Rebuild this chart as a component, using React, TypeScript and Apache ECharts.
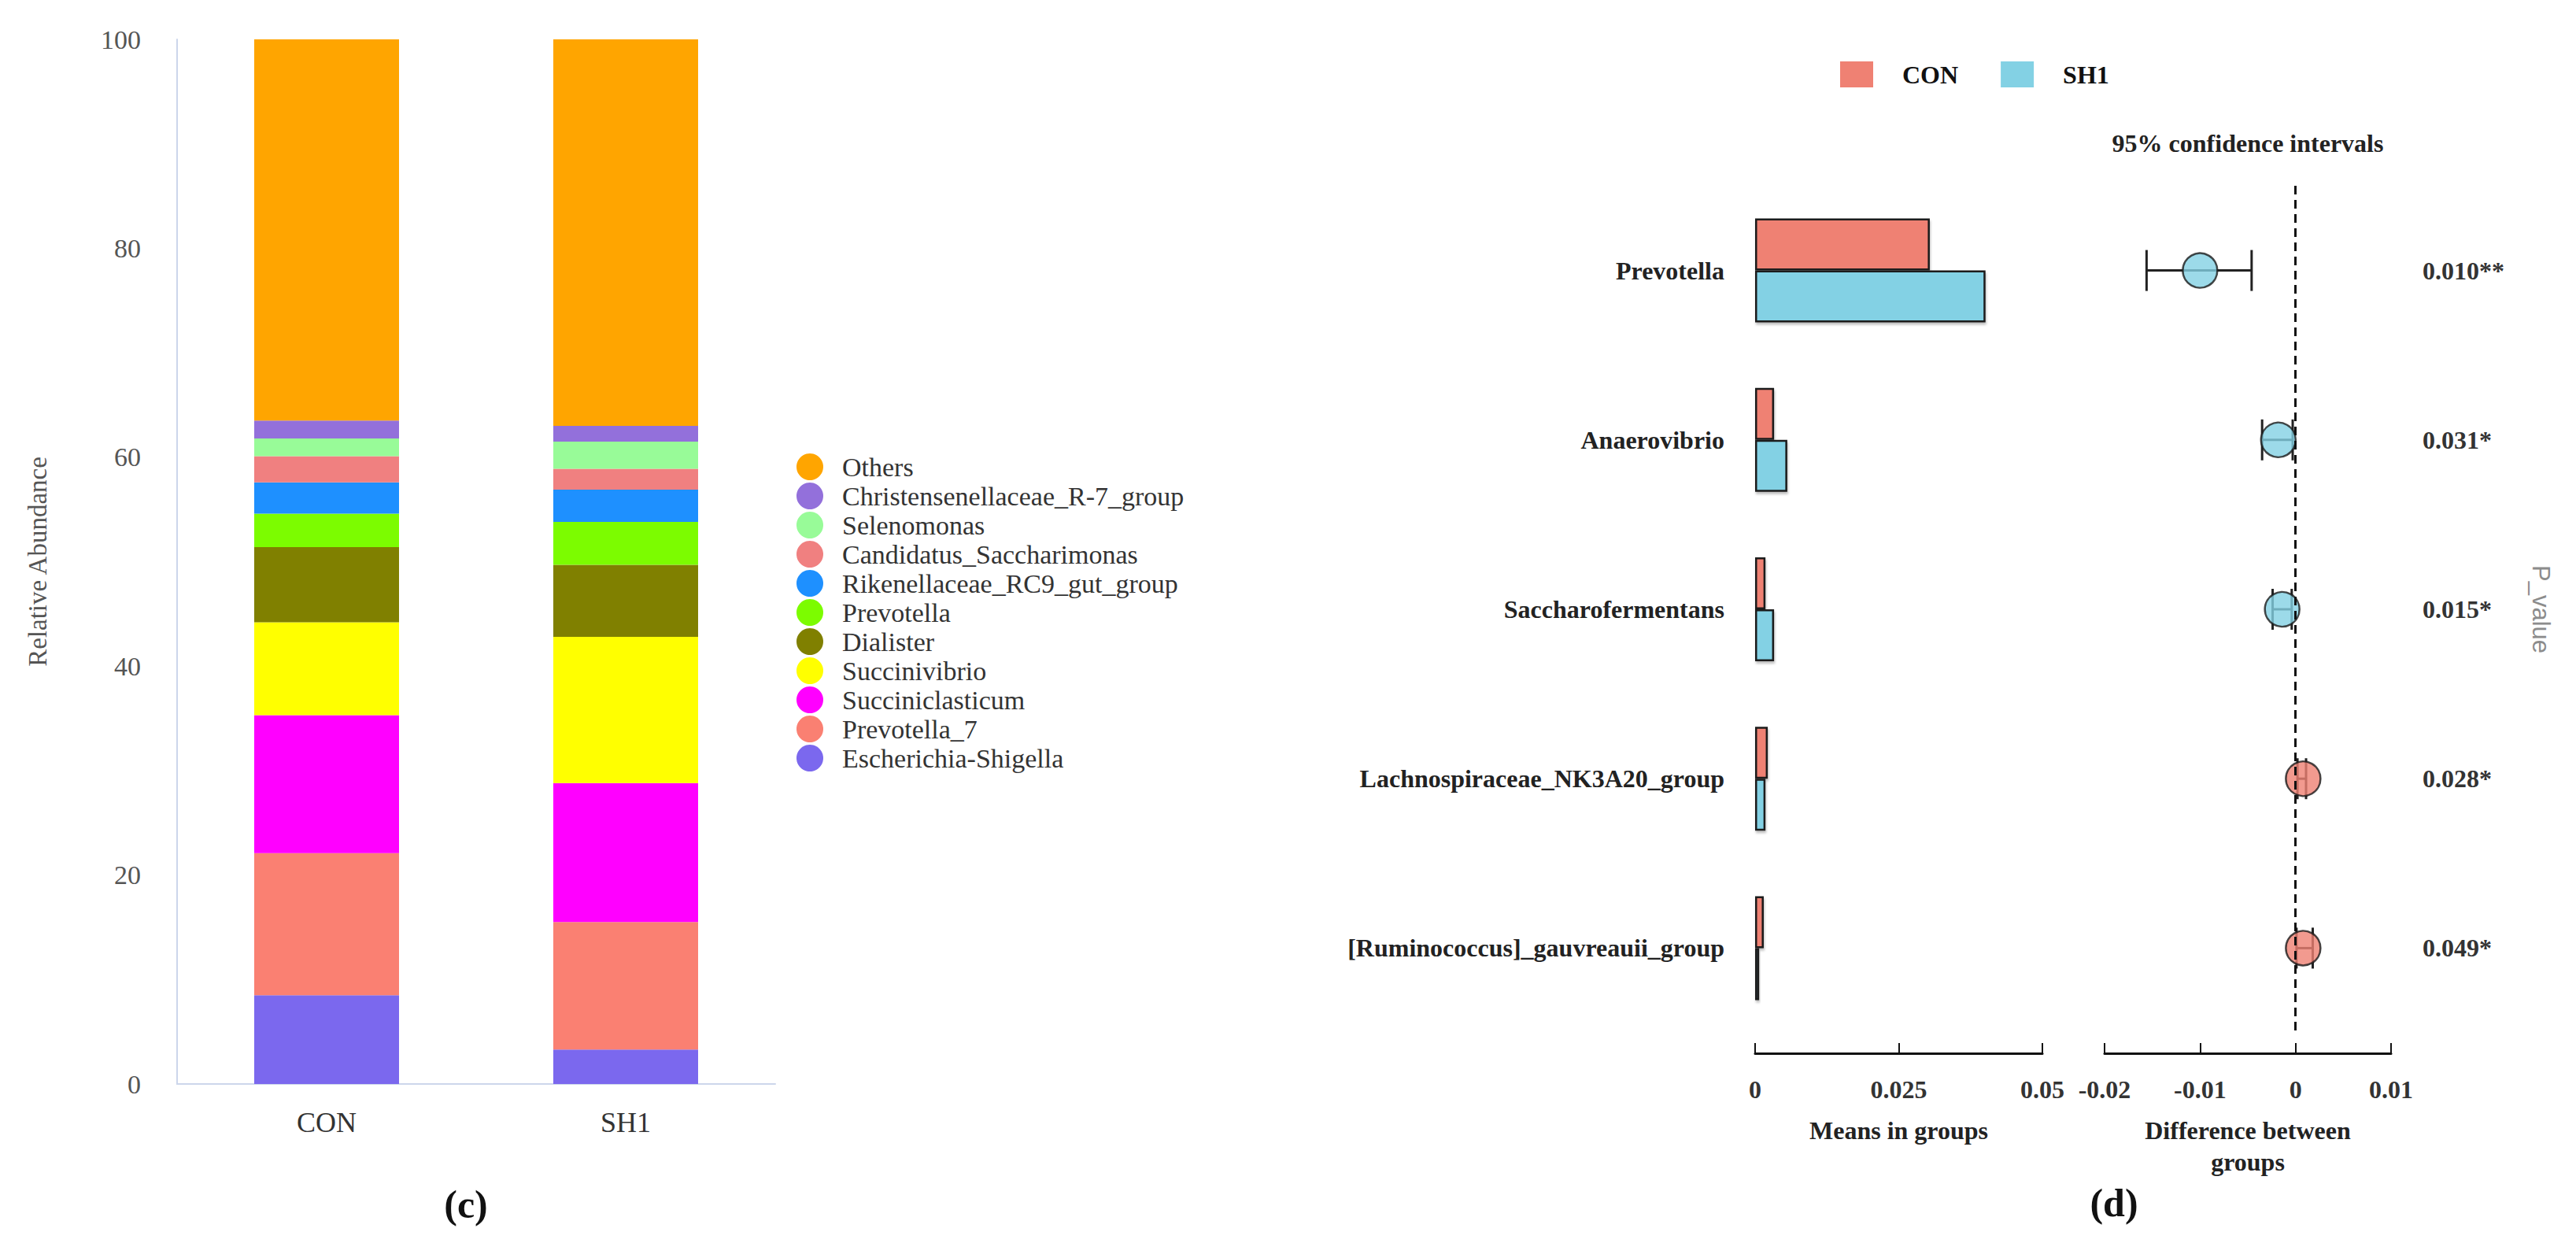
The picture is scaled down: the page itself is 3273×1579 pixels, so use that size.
import React, { useEffect, useRef } from 'react';
import * as echarts from 'echarts';

// ---------- Panel (c): relative abundance ----------
const groups = ['CON', 'SH1'];
const genera = [
  'Escherichia-Shigella',
  'Prevotella_7',
  'Succiniclasticum',
  'Succinivibrio',
  'Dialister',
  'Prevotella',
  'Rikenellaceae_RC9_gut_group',
  'Candidatus_Saccharimonas',
  'Selenomonas',
  'Christensenellaceae_R-7_group',
  'Others',
];
const conAbundance = [8.5, 13.6, 13.2, 8.9, 7.2, 3.2, 3.0, 2.5, 1.7, 1.7, 36.5];
const sh1Abundance = [3.3, 12.2, 13.3, 14.0, 6.9, 4.1, 3.1, 2.0, 2.6, 1.5, 37.0];
const abundanceMin = 0;
const abundanceMax = 100;
const abundanceStep = 20;

// ---------- Panel (d): extended error bar ----------
const taxa = [
  'Prevotella',
  'Anaerovibrio',
  'Saccharofermentans',
  'Lachnospiraceae_NK3A20_group',
  '[Ruminococcus]_gauvreauii_group',
];
const conMeans = [0.0304, 0.0033, 0.0018, 0.0022, 0.0015];
const sh1Means = [0.0401, 0.0056, 0.0033, 0.0018, 0.0007];
const diffEstimate = [-0.01, -0.0018, -0.0014, 0.0008, 0.0008];
const ciLower = [-0.0156, -0.0035, -0.0024, 0.0002, 0.0001];
const ciUpper = [-0.0046, -0.0003, -0.0004, 0.0011, 0.0018];
const pValues = ['0.010**', '0.031*', '0.015*', '0.028*', '0.049*'];
const meanMin = 0;
const meanMax = 0.05;
const meanStep = 0.025;
const diffMin = -0.02;
const diffMax = 0.01;
const diffStep = 0.01;

// styles (kept apart from data)
const generaColors = [
  '#7B68EE', '#FA8072', '#FF00FF', '#FFFF00', '#808000', '#7CFC00',
  '#1E90FF', '#F08080', '#98FB98', '#9370DB', '#FFA500',
];
const CON_COLOR = '#EF8173';
const SH1_COLOR = '#83D1E4';
const SERIF = '"Liberation Serif", "Times New Roman", serif';

const fmt = (v: number) => String(+Number(v).toFixed(4));

export default function App() {
  const ref = useRef<HTMLDivElement>(null);

  useEffect(() => {
    const chart = echarts.init(ref.current as HTMLDivElement, null, { renderer: 'svg' });

    const stackSeries = genera.map((g, i) => ({
      type: 'bar',
      name: g,
      stack: 'abundance',
      xAxisIndex: 0,
      yAxisIndex: 0,
      barWidth: 184,
      data: [conAbundance[i], sh1Abundance[i]],
      itemStyle: { color: generaColors[i] },
    }));

    const barShadow = {
      shadowColor: 'rgba(0,0,0,0.25)',
      shadowBlur: 3,
      shadowOffsetX: 1,
      shadowOffsetY: 3,
    };

    const option: any = {
      animation: false,
      backgroundColor: '#ffffff',
      textStyle: { fontFamily: SERIF },
      legend: [
        {
          data: genera.slice().reverse(),
          orient: 'vertical',
          left: 1012,
          top: 576,
          padding: 0,
          icon: 'circle',
          itemWidth: 34,
          itemHeight: 34,
          itemGap: 3,
          selectedMode: false,
          textStyle: {
            fontFamily: SERIF,
            fontSize: 34,
            lineHeight: 34,
            color: '#333',
            padding: [0, 0, 0, 19],
          },
        },
        {
          data: ['CON', 'SH1'],
          orient: 'horizontal',
          left: 2338,
          top: 78,
          padding: 0,
          icon: 'rect',
          itemWidth: 42,
          itemHeight: 33,
          itemGap: 54,
          selectedMode: false,
          itemStyle: { borderWidth: 0, shadowBlur: 0 },
          textStyle: {
            fontFamily: SERIF,
            fontWeight: 'bold',
            fontSize: 32,
            color: '#111',
            padding: [0, 0, 0, 32],
          },
        },
      ],
      grid: [
        { left: 225, top: 50, width: 760, height: 1327 },
        { left: 2230, top: 236, width: 365, height: 1076 },
        { left: 2674, top: 236, width: 364, height: 1076 },
      ],
      xAxis: [
        {
          gridIndex: 0,
          type: 'category',
          data: groups,
          axisLine: { show: true, lineStyle: { color: '#CCD6EB', width: 2 } },
          axisTick: { show: false },
          axisLabel: { fontFamily: SERIF, fontSize: 36, color: '#333', margin: 31 },
        },
        {
          gridIndex: 1,
          type: 'value',
          min: meanMin,
          max: meanMax,
          interval: meanStep,
          offset: 26,
          axisLine: { show: true, lineStyle: { color: '#111', width: 3 } },
          axisTick: { show: true, inside: true, length: 13, lineStyle: { color: '#111', width: 2 } },
          splitLine: { show: false },
          axisLabel: {
            fontFamily: SERIF, fontWeight: 'bold', fontSize: 32, color: '#333', margin: 30,
            formatter: fmt,
          },
          name: 'Means in groups',
          nameLocation: 'middle',
          nameGap: 78,
          nameTextStyle: { fontFamily: SERIF, fontWeight: 'bold', fontSize: 32, color: '#222', lineHeight: 40 },
        },
        {
          gridIndex: 2,
          type: 'value',
          min: diffMin,
          max: diffMax,
          interval: diffStep,
          offset: 26,
          axisLine: { show: true, lineStyle: { color: '#111', width: 3 } },
          axisTick: { show: true, inside: true, length: 13, lineStyle: { color: '#111', width: 2 } },
          splitLine: { show: false },
          axisLabel: {
            fontFamily: SERIF, fontWeight: 'bold', fontSize: 32, color: '#333', margin: 30,
            formatter: fmt,
          },
          name: 'Difference between\ngroups',
          nameLocation: 'middle',
          nameGap: 78,
          nameTextStyle: { fontFamily: SERIF, fontWeight: 'bold', fontSize: 32, color: '#222', lineHeight: 40 },
        },
      ],
      yAxis: [
        {
          gridIndex: 0,
          type: 'value',
          min: abundanceMin,
          max: abundanceMax,
          interval: abundanceStep,
          axisLine: { show: true, lineStyle: { color: '#CCD6EB', width: 2 } },
          axisTick: { show: false },
          splitLine: { show: false },
          axisLabel: { fontFamily: SERIF, fontSize: 34, color: '#555', margin: 46 },
          name: 'Relative Abundance',
          nameLocation: 'middle',
          nameGap: 161,
          nameRotate: 90,
          nameTextStyle: { fontFamily: SERIF, fontSize: 33, color: '#555' },
        },
        {
          gridIndex: 1,
          type: 'category',
          data: taxa,
          inverse: true,
          axisLine: { show: false },
          axisTick: { show: false },
          axisLabel: { fontFamily: SERIF, fontWeight: 'bold', fontSize: 32, color: '#222', margin: 39 },
        },
        {
          gridIndex: 2,
          type: 'category',
          data: taxa,
          inverse: true,
          position: 'right',
          axisLine: { show: false },
          axisTick: { show: false },
          axisLabel: {
            fontFamily: SERIF, fontWeight: 'bold', fontSize: 32, color: '#333', margin: 40,
            formatter: (_v: string, i: number) => pValues[i],
          },
          name: 'P_value',
          nameLocation: 'middle',
          nameRotate: -90,
          nameGap: 175,
          nameTextStyle: { fontFamily: '"Liberation Sans", Arial, sans-serif', fontSize: 31, color: '#8c8c8c' },
        },
      ],
      series: [
        ...stackSeries,
        {
          type: 'bar',
          name: 'CON',
          xAxisIndex: 1,
          yAxisIndex: 1,
          data: conMeans,
          barWidth: 66,
          barGap: '0%',
          itemStyle: { color: CON_COLOR, borderColor: '#1a1a1a', borderWidth: 2.5, ...barShadow },
        },
        {
          type: 'bar',
          name: 'SH1',
          xAxisIndex: 1,
          yAxisIndex: 1,
          data: sh1Means,
          barWidth: 66,
          barGap: '0%',
          itemStyle: { color: SH1_COLOR, borderColor: '#1a1a1a', borderWidth: 2.5, ...barShadow },
        },
        {
          type: 'custom',
          name: 'ci',
          xAxisIndex: 2,
          yAxisIndex: 2,
          z: 2,
          data: taxa.map((_, i) => [ciLower[i], i, ciUpper[i]]),
          encode: { x: [0, 2], y: 1 },
          renderItem: (_params: any, api: any) => {
            const cat = api.value(1);
            const lo = api.coord([api.value(0), cat]);
            const hi = api.coord([api.value(2), cat]);
            const cap = 26;
            const style = { stroke: '#222', lineWidth: 3 };
            return {
              type: 'group',
              children: [
                { type: 'line', shape: { x1: lo[0], y1: lo[1], x2: hi[0], y2: hi[1] }, style },
                { type: 'line', shape: { x1: lo[0], y1: lo[1] - cap, x2: lo[0], y2: lo[1] + cap }, style },
                { type: 'line', shape: { x1: hi[0], y1: hi[1] - cap, x2: hi[0], y2: hi[1] + cap }, style },
              ],
            };
          },
        },
        {
          type: 'scatter',
          name: 'difference',
          xAxisIndex: 2,
          yAxisIndex: 2,
          z: 4,
          symbol: 'circle',
          symbolSize: 44,
          data: taxa.map((_, i) => ({
            value: [diffEstimate[i], i],
            itemStyle: { color: diffEstimate[i] > 0 ? CON_COLOR : SH1_COLOR },
          })),
          itemStyle: { borderColor: '#1a1a1a', borderWidth: 2.5 },
          markLine: {
            silent: true,
            symbol: ['none', 'none'],
            label: { show: false },
            lineStyle: { type: [11, 7], color: '#111', width: 3 },
            data: [{ xAxis: 0 }],
          },
        },
      ],
      graphic: [
        {
          type: 'text',
          x: 592,
          y: 1530,
          style: {
            text: '(c)', fill: '#111', fontFamily: SERIF, fontWeight: 'bold', fontSize: 50,
            align: 'center', verticalAlign: 'middle',
          },
        },
        {
          type: 'text',
          x: 2686,
          y: 1528,
          style: {
            text: '(d)', fill: '#111', fontFamily: SERIF, fontWeight: 'bold', fontSize: 50,
            align: 'center', verticalAlign: 'middle',
          },
        },
        {
          type: 'text',
          x: 2856,
          y: 182,
          style: {
            text: '95% confidence intervals', fill: '#222', fontFamily: SERIF, fontWeight: 'bold', fontSize: 32,
            align: 'center', verticalAlign: 'middle',
          },
        },
      ],
    };

    chart.setOption(option);
    return () => chart.dispose();
  }, []);

  return (
    <div
      ref={ref}
      style={{ position: 'absolute', left: 0, top: 0, width: 3273, height: 1579, background: '#fff' }}
    />
  );
}
